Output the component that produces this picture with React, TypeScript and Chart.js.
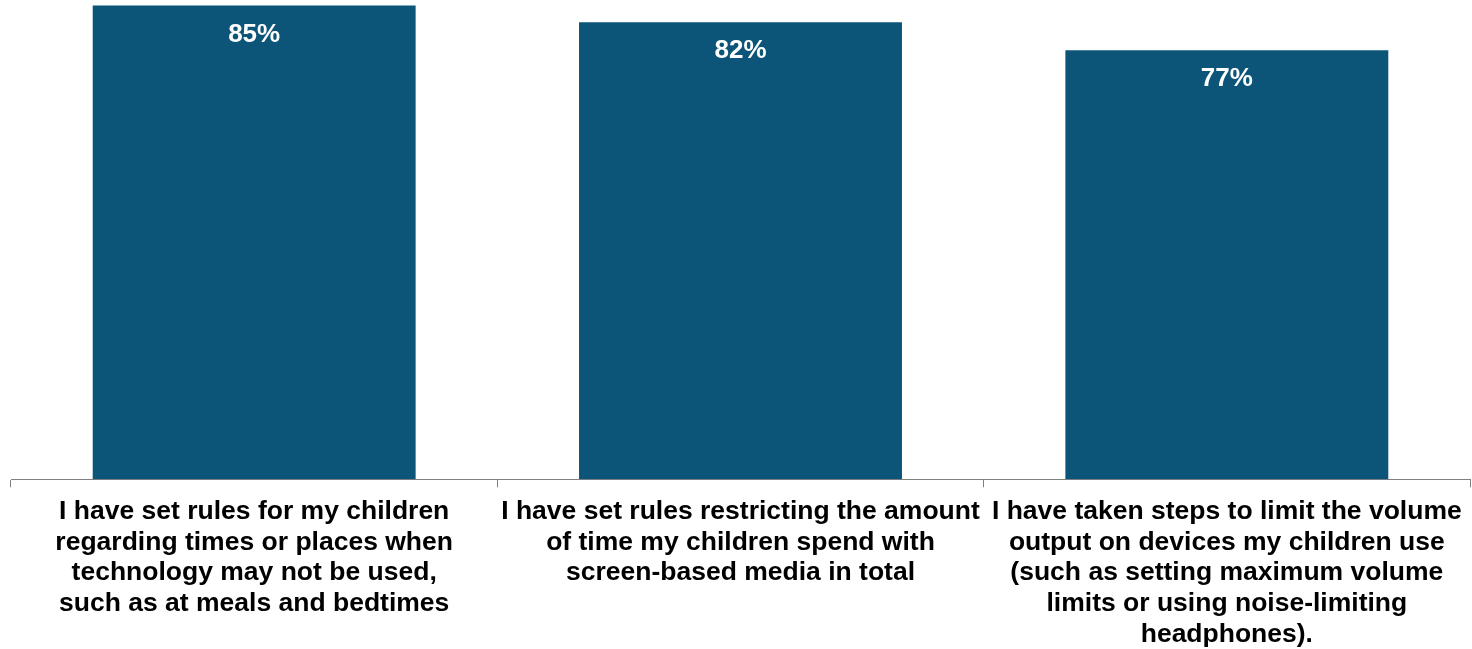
import React, { useEffect, useRef } from "react";
import { Chart, registerables } from "chart.js";

Chart.register(...registerables);

const categories: string[][] = [
  ["I have set rules for my children", "regarding times or places when", "technology may not be used,", "such as at meals and bedtimes"],
  ["I have set rules restricting the amount", "of time my children spend with", "screen-based media in total"],
  ["I have taken steps to limit the volume", "output on devices my children use", "(such as setting maximum volume", "limits or using noise-limiting", "headphones)."],
];
const values: number[] = [85, 82, 77];
const valueLabels: string[] = ["85%", "82%", "77%"];

const BAR_COLOR = "#0D5479";
const FONT = "'Liberation Sans'";

const valueLabelPlugin = {
  id: "valueLabels",
  afterDatasetsDraw(chart: any) {
    const ctx = chart.ctx;
    const meta = chart.getDatasetMeta(0);
    ctx.save();
    ctx.fillStyle = "#FFFFFF";
    ctx.font = `bold 26px ${FONT}`;
    ctx.textAlign = "center";
    ctx.textBaseline = "middle";
    meta.data.forEach((bar: any, i: number) => {
      ctx.fillText(valueLabels[i], bar.x, bar.y + 29);
    });
    ctx.restore();
  },
};

export default function App() {
  const ref = useRef<HTMLCanvasElement | null>(null);
  useEffect(() => {
    document.body.style.margin = "0";
    let chart: Chart | null = null;
    let cancelled = false;
    const build = () => {
      if (cancelled || !ref.current) return;
      chart = new Chart(ref.current, {
        type: "bar",
        data: {
          labels: categories,
          datasets: [
            {
              data: values,
              backgroundColor: BAR_COLOR,
              borderWidth: 0,
              barPercentage: 0.664,
              categoryPercentage: 1,
            },
          ],
        },
        options: {
          animation: false,
          responsive: false,
          maintainAspectRatio: false,
          layout: { padding: { left: 11, right: 2, top: 0, bottom: -10 } },
          plugins: { legend: { display: false }, tooltip: { enabled: false } },
          scales: {
            y: { display: false, min: 0, max: 86 },
            x: {
              border: { display: true, color: "#808080", width: 1 },
              grid: {
                offset: true,
                drawOnChartArea: false,
                drawTicks: true,
                tickLength: 8,
                color: "#808080",
              },
              ticks: {
                color: "#000000",
                font: { family: FONT, size: 26.5, weight: "bold", lineHeight: 30.75 / 26.5 },
                padding: 9,
                maxRotation: 0,
                minRotation: 0,
                autoSkip: false,
              },
            },
          },
        },
        plugins: [valueLabelPlugin],
      });
    };
    const fonts: any = (document as any).fonts;
    if (fonts && fonts.load) {
      Promise.all([
        fonts.load("bold 26px 'Liberation Sans'"),
        fonts.load("26px 'Liberation Sans'"),
      ]).then(build, build);
    } else {
      build();
    }
    return () => {
      cancelled = true;
      if (chart) chart.destroy();
    };
  }, []);
  return (
    <div style={{ width: 1472, height: 649 }}>
      <canvas ref={ref} width={1472} height={649} style={{ display: "block" }} />
    </div>
  );
}
